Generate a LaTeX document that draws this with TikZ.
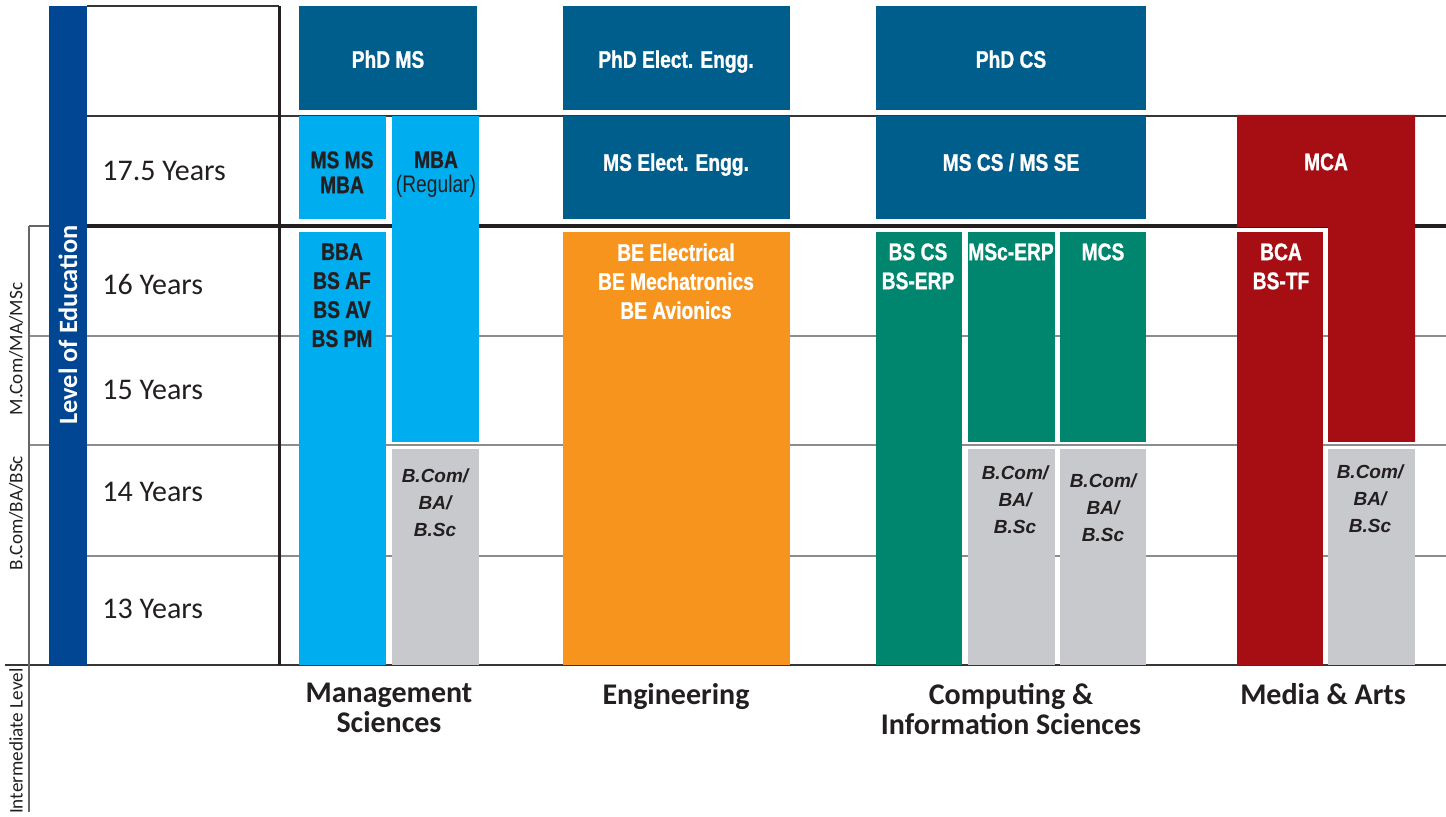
\documentclass[tikz,border=0pt]{standalone}
\usepackage{fontspec}
\setmainfont{Carlito}
\newfontfamily\progfont[FakeStretch=0.8, BoldFeatures={FakeBold=1}]{Liberation Sans}
\newfontfamily\grisfont{Liberation Sans}

\definecolor{BarreBleu}{RGB}{0,70,147}
\definecolor{PhdBleu}{RGB}{0,94,140}
\definecolor{Cyan}{RGB}{0,174,239}
\definecolor{Orange}{RGB}{247,148,30}
\definecolor{Vert}{RGB}{0,133,111}
\definecolor{Rouge}{RGB}{166,14,20}
\definecolor{Gris}{RGB}{200,201,204}
\definecolor{Encre}{RGB}{35,31,32}

\tikzset{
  fin/.style={line width=0.75pt, color=Encre!90},
  grille/.style={line width=1pt, color=black!45},
  epais/.style={line width=2pt, color=Encre},
  cote/.style={line width=0.6pt, color=black!60},
  annee/.style={font=\fontsize{15}{18}\selectfont, text=Encre, inner sep=0pt},
  cotetxt/.style={font=\fontsize{9.6}{11}\selectfont, text=Encre, rotate=90, inner sep=0pt},
  titre/.style={font=\bfseries\fontsize{15}{15}\selectfont, text=Encre, align=center, inner sep=0pt},
  prog/.style={font=\progfont\bfseries\fontsize{12}{14.5}\selectfont, align=center, inner sep=0pt, anchor=north},
  progserre/.style={prog, font=\progfont\bfseries\fontsize{12}{12.5}\selectfont},
  gristxt/.style={font=\grisfont\bfseries\itshape\fontsize{9.5}{13.5}\selectfont, text=Encre, align=center, inner sep=0pt, anchor=north},
}

\begin{document}
\begin{tikzpicture}[x=0.5pt,y=-0.5pt]
\useasboundingbox (0,0) rectangle (1446,817);

% lignes de la grille
\draw[fin] (87,6) -- (279,6);
\draw[fin] (87,116) -- (1446,116);
\draw[cote] (29,226) -- (87,226);
\draw[epais] (87,226) -- (1446,226);
\draw[grille] (29,336) -- (1446,336);
\draw[grille] (29,445) -- (1446,445);
\draw[grille] (87,556) -- (1446,556);
\draw[fin] (5,665) -- (1446,665);
\draw[cote] (29,226) -- (29,812);
\draw[line width=1.5pt, color=Encre] (279,6) -- (279,665);

% barre niveau
\fill[BarreBleu] (49,6) rectangle (87,665);
\node[rotate=90, text=white, font=\bfseries\fontsize{13.2}{15}\selectfont, inner sep=0pt] (niveau) at (68,325) {Level of Education};

% textes de gauche
\node[cotetxt] (mcom) at (16,349) {M.Com/MA/MSc};
\node[cotetxt] (bcom) at (16,513) {B.Com/BA/BSc};
\node[cotetxt] (inter) at (16,741) {Intermediate Level};
\foreach \y/\t/\n in {171/17.5/a,285/16/b,390/15/c,492/14/d,609/13/e}{
  \node[annee, anchor=base west] (an\n) at (102,\y+10) {\t\ Years};
}

% Management Sciences
\fill[PhdBleu] (299,6) rectangle (477,110);
\fill[Cyan] (299,116) rectangle (386,219);
\fill[Cyan] (392,116) rectangle (479,442);
\fill[Cyan] (299,232) rectangle (386,665);
\fill[Gris] (392,449) rectangle (479,665);
\node[prog, text=white] (phdms) at (388,50) {PhD MS};
\node[progserre, text=Encre] (msms) at (342,151) {MS MS\\MBA};
\node[progserre, text=Encre] (mbareg) at (436,151) {MBA\\{\mdseries (Regular)}};
\node[prog, text=Encre] (bba) at (342,243) {BBA\\BS AF\\BS AV\\BS PM};
\node[gristxt] (gris1) at (435,468) {B.Com/\\BA/\\B.Sc};

% Engineering
\fill[PhdBleu] (563,6) rectangle (790,110);
\fill[PhdBleu] (563,116) rectangle (790,219);
\fill[Orange] (563,232) rectangle (790,665);
\node[prog, text=white] (phdee) at (676,50) {PhD Elect. Engg.};
\node[prog, text=white] (msee) at (676,153) {MS Elect. Engg.};
\node[prog, text=white] (be) at (676,243) {BE Electrical\\BE Mechatronics\\BE Avionics};

% Computing
\fill[PhdBleu] (876,6) rectangle (1146,110);
\fill[PhdBleu] (876,116) rectangle (1146,219);
\fill[Vert] (876,232) rectangle (962,665);
\fill[Vert] (968,232) rectangle (1055,442);
\fill[Vert] (1060,232) rectangle (1146,442);
\fill[Gris] (968,449) rectangle (1055,665);
\fill[Gris] (1060,449) rectangle (1146,665);
\node[prog, text=white] (phdcs) at (1011,50) {PhD CS};
\node[prog, text=white] (mscs) at (1011,153) {MS CS / MS SE};
\node[prog, text=white] (bscs) at (918,243) {BS CS\\BS-ERP};
\node[prog, text=white] (mscerp) at (1011,243) {MSc-ERP};
\node[prog, text=white] (mcs) at (1103,243) {MCS};
\node[gristxt] (gris2) at (1015,465) {B.Com/\\BA/\\B.Sc};
\node[gristxt] (gris3) at (1103,473) {B.Com/\\BA/\\B.Sc};

% Media & Arts
\fill[Rouge] (1237,115) -- (1415,115) -- (1415,442) -- (1328,442) -- (1328,227) -- (1237,227) -- cycle;
\fill[Rouge] (1237,232) rectangle (1323,665);
\fill[Gris] (1328,449) rectangle (1415,665);
\node[prog, text=white] (mca) at (1326,153) {MCA};
\node[prog, text=white] (bca) at (1281,243) {BCA\\BS-TF};
\node[gristxt] (gris4) at (1370,464) {B.Com/\\BA/\\B.Sc};

% titres du bas
\node[titre, anchor=north] (mgmt) at (389,683) {Management\\Sciences};
\node[titre, anchor=north] (engg) at (676,683) {Engineering};
\node[titre, anchor=north] (comp) at (1011,683) {Computing \&\\Information Sciences};
\node[titre, anchor=north] (media) at (1323,683) {Media \& Arts};
\end{tikzpicture}
\end{document}
